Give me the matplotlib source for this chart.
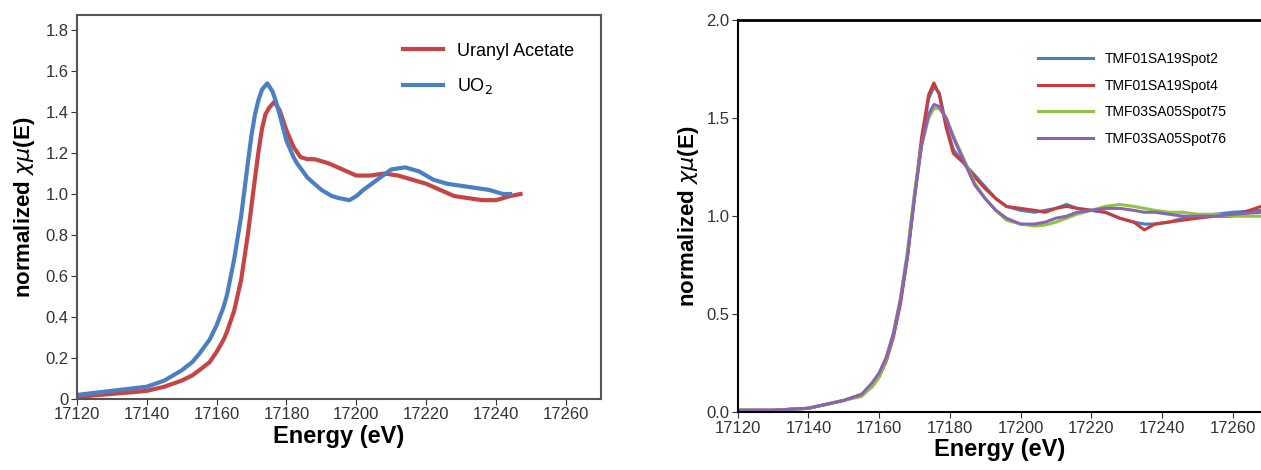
import matplotlib.pyplot as plt
from matplotlib.ticker import FuncFormatter

plt.rcParams['font.family'] = ['Liberation Sans', 'DejaVu Sans']

# left panel: reference compounds
ua_x = [17120, 17125, 17130, 17135, 17140, 17145, 17150, 17153, 17155, 17158, 17160, 17162,
        17163, 17165, 17167, 17169, 17171, 17172, 17173, 17174, 17175, 17176.5, 17178, 17179,
        17180, 17181, 17182, 17184, 17186, 17188, 17190, 17192, 17196, 17200, 17204, 17208,
        17212, 17216, 17220, 17224, 17228, 17232, 17236, 17240, 17244, 17247]
ua_y = [0.01, 0.018, 0.025, 0.032, 0.04, 0.06, 0.09, 0.115, 0.14, 0.18, 0.23, 0.29,
        0.33, 0.43, 0.58, 0.81, 1.08, 1.21, 1.32, 1.39, 1.42, 1.45, 1.41, 1.36,
        1.31, 1.27, 1.23, 1.18, 1.17, 1.17, 1.16, 1.15, 1.12, 1.09, 1.09, 1.10,
        1.09, 1.07, 1.05, 1.02, 0.99, 0.98, 0.97, 0.97, 0.99, 1.00]
uo2_x = [17120, 17125, 17130, 17135, 17140, 17145, 17150, 17153, 17155, 17158, 17160, 17162,
         17163, 17165, 17167, 17169, 17170, 17171, 17172, 17173, 17174.5, 17176, 17177, 17178,
         17180, 17182, 17183, 17186, 17188, 17190, 17193, 17195, 17198, 17200, 17202, 17206,
         17210, 17214, 17218, 17222, 17226, 17230, 17234, 17238, 17242, 17244]
uo2_y = [0.02, 0.03, 0.04, 0.05, 0.06, 0.09, 0.14, 0.18, 0.22, 0.29, 0.36, 0.45,
         0.51, 0.68, 0.89, 1.16, 1.29, 1.39, 1.46, 1.51, 1.54, 1.50, 1.45, 1.39,
         1.26, 1.18, 1.15, 1.08, 1.05, 1.02, 0.99, 0.98, 0.97, 0.99, 1.02, 1.07,
         1.12, 1.13, 1.11, 1.07, 1.05, 1.04, 1.03, 1.02, 1.00, 1.00]

# right panel: sample spots
e = [17120, 17130, 17140, 17145, 17150, 17155, 17158, 17160, 17162, 17164, 17166, 17168,
     17170, 17172, 17174, 17175.5, 17177, 17179, 17181, 17184, 17187, 17190, 17193, 17196,
     17200, 17204, 17207, 17210, 17213, 17216, 17220, 17224, 17228, 17232, 17235, 17238,
     17242, 17246, 17250, 17255, 17260, 17268]
spot2 = [0.01, 0.01, 0.02, 0.04, 0.06, 0.09, 0.14, 0.19, 0.27, 0.39, 0.56, 0.79,
         1.09, 1.37, 1.60, 1.66, 1.63, 1.46, 1.34, 1.27, 1.21, 1.15, 1.09, 1.05,
         1.03, 1.02, 1.03, 1.04, 1.06, 1.04, 1.03, 1.02, 0.99, 0.97, 0.96, 0.96,
         0.97, 0.99, 1.00, 1.01, 1.02, 1.03]
spot4 = [0.01, 0.01, 0.02, 0.04, 0.06, 0.09, 0.13, 0.18, 0.26, 0.38, 0.55, 0.79,
         1.10, 1.40, 1.62, 1.68, 1.62, 1.45, 1.32, 1.27, 1.20, 1.14, 1.09, 1.05,
         1.04, 1.03, 1.02, 1.04, 1.05, 1.04, 1.03, 1.02, 0.99, 0.97, 0.93, 0.96,
         0.97, 0.98, 0.99, 1.00, 1.00, 1.05]
spot75 = [0.01, 0.01, 0.02, 0.04, 0.06, 0.08, 0.13, 0.18, 0.27, 0.40, 0.58, 0.82,
          1.12, 1.36, 1.50, 1.55, 1.55, 1.50, 1.41, 1.29, 1.17, 1.09, 1.03, 0.98,
          0.96, 0.95, 0.955, 0.97, 0.99, 1.01, 1.03, 1.05, 1.06, 1.05, 1.04, 1.03,
          1.02, 1.02, 1.01, 1.01, 1.00, 1.00]
spot76 = [0.01, 0.01, 0.02, 0.04, 0.06, 0.09, 0.15, 0.20, 0.28, 0.40, 0.57, 0.80,
          1.10, 1.36, 1.52, 1.57, 1.56, 1.50, 1.40, 1.28, 1.16, 1.09, 1.03, 0.99,
          0.96, 0.96, 0.97, 0.99, 1.00, 1.02, 1.03, 1.04, 1.04, 1.03, 1.02, 1.02,
          1.01, 1.00, 1.00, 1.00, 1.01, 1.02]
spot_labels = ['TMF01SA19Spot2', 'TMF01SA19Spot4', 'TMF03SA05Spot75', 'TMF03SA05Spot76']

fig = plt.figure(figsize=(12.61, 4.70), dpi=100)

ax1 = fig.add_axes([0.061, 0.151, 0.4155, 0.817])
ax1.plot(ua_x, ua_y, color='#c84444', lw=3, label='Uranyl Acetate')
ax1.plot(uo2_x, uo2_y, color='#4a7fc4', lw=3, label='UO$_2$')
ax1.set_xlim(17120, 17270)
ax1.set_ylim(0, 1.873)
ax1.set_xticks(range(17120, 17261, 20))
ax1.set_yticks([0, 0.2, 0.4, 0.6, 0.8, 1.0, 1.2, 1.4, 1.6, 1.8])
ax1.yaxis.set_major_formatter(FuncFormatter(lambda v, p: '0' if v == 0 else f'{v:.1f}'))
for s in ax1.spines.values():
    s.set_color('#555555')
    s.set_linewidth(1.5)
ax1.tick_params(labelsize=12, colors='#333333', length=4, pad=2)
ax1.set_xlabel('Energy (eV)', fontsize=17, fontweight='bold', labelpad=2)
ax1.set_ylabel('normalized $\\chi\\mu$(E)', fontsize=16, fontweight='bold', labelpad=6)
ax1.legend(loc='upper right', frameon=False, fontsize=13, handlelength=2.2,
           labelspacing=0.9, bbox_to_anchor=(0.98, 0.97))

ax2 = fig.add_axes([0.585, 0.123, 0.415, 0.834])
colors = ['#4a7fc4', '#cc3b3b', '#8dc63f', '#8a63b3']
for ys, c, lab in zip([spot2, spot4, spot75, spot76], colors, spot_labels):
    ax2.plot(e, ys, color=c, lw=2.2, label=lab)
ax2.set_xlim(17120, 17268)
ax2.set_ylim(0, 2.0)
ax2.set_xticks(range(17120, 17261, 20))
ax2.set_yticks([0.0, 0.5, 1.0, 1.5, 2.0])
ax2.yaxis.set_major_formatter(FuncFormatter(lambda v, p: f'{v:.1f}'))
ax2.spines['right'].set_visible(False)
ax2.spines['top'].set_linewidth(2)
ax2.spines['left'].set_linewidth(1.5)
ax2.spines['bottom'].set_linewidth(1.5)
ax2.tick_params(labelsize=12, colors='#333333', length=4, pad=2)
ax2.set_xlabel('Energy (eV)', fontsize=17, fontweight='bold', labelpad=2)
ax2.set_ylabel('normalized $\\chi\\mu$(E)', fontsize=16, fontweight='bold', labelpad=4)
ax2.legend(loc='upper right', frameon=False, fontsize=10, handlelength=4,
           labelspacing=0.9, bbox_to_anchor=(0.958, 0.95))

fig.savefig('out.png', dpi=100)
